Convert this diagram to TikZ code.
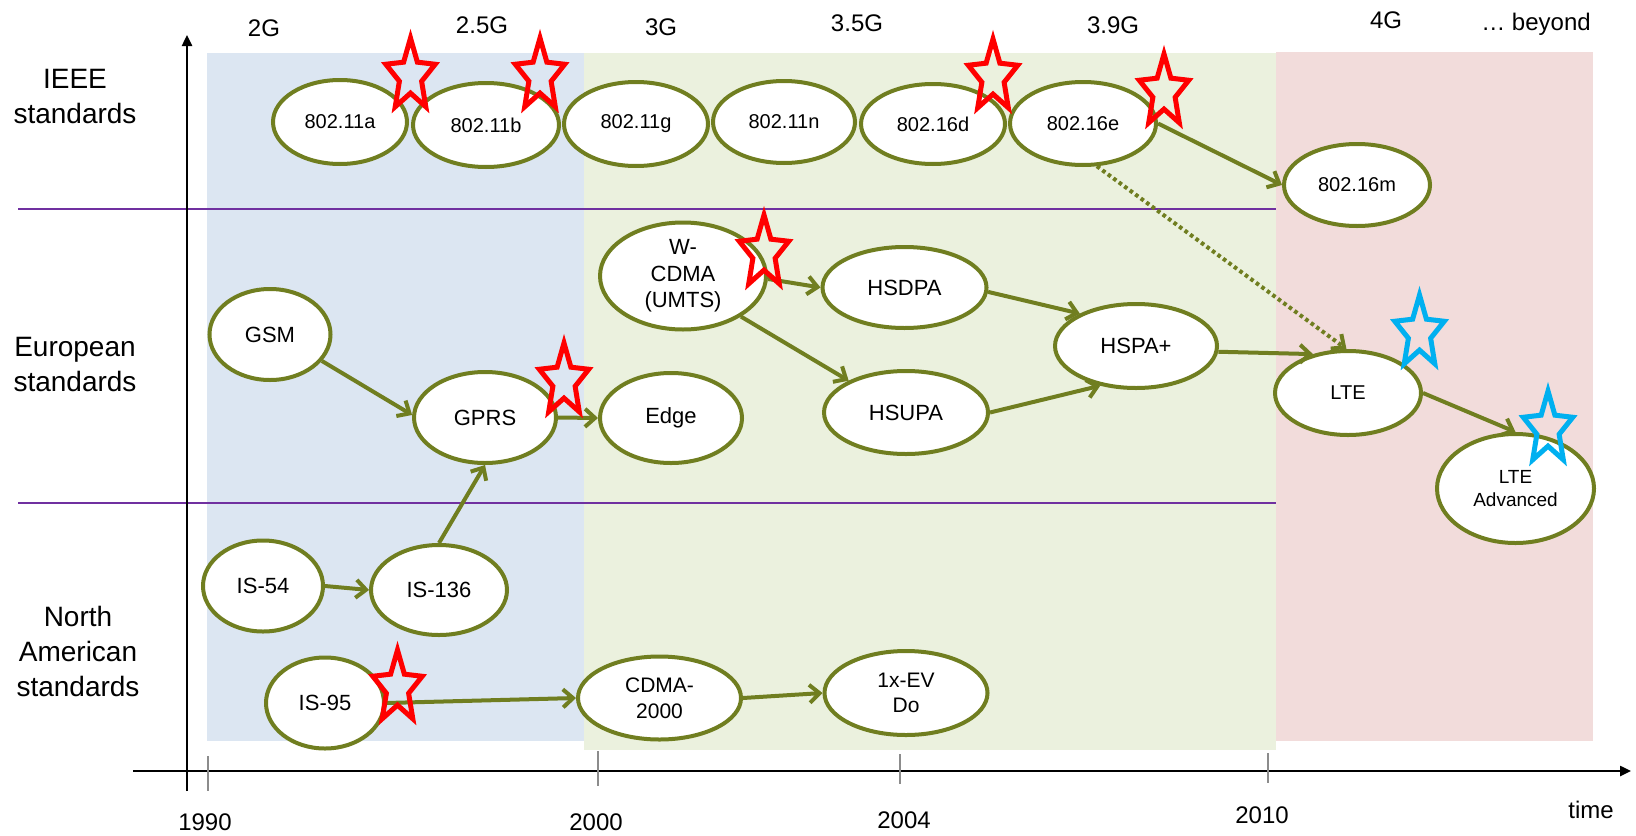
\documentclass[tikz,border=0pt]{standalone}
\usepackage{fontspec}
\setmainfont{Liberation Sans}
\usetikzlibrary{shapes.geometric,arrows.meta}

\definecolor{olivegreen}{RGB}{112,126,32}
\definecolor{bandblue}{RGB}{220,230,242}
\definecolor{bandgreen}{RGB}{235,241,222}
\definecolor{bandpink}{RGB}{242,220,219}
\definecolor{rowline}{RGB}{112,48,160}
\definecolor{starred}{RGB}{255,0,0}
\definecolor{starblue}{RGB}{0,176,240}
\definecolor{tickgray}{RGB}{140,140,140}

\tikzset{
  std/.style={ellipse, draw=olivegreen, line width=2pt, fill=white, inner sep=0pt,
    align=center, font=\fontsize{11}{13.3}\selectfont},
  smalltext/.style={font=\fontsize{10}{11.7}\selectfont},
  link/.style={draw=olivegreen, line width=2pt, -{Straight Barb[length=5pt,width=9pt]}},
  maybelink/.style={draw=olivegreen, line width=2pt, dash pattern=on 1.8pt off 1.6pt,
    -{Straight Barb[length=5pt,width=9pt]}},
  axisline/.style={draw=black, line width=1.2pt, -{Triangle[length=5.5pt,width=5pt]}},
  tickmark/.style={draw=tickgray, line width=0.6pt},
  rowsep/.style={draw=rowline, line width=0.9pt},
  gen/.style={inner sep=0pt, anchor=base, font=\fontsize{12}{14}\selectfont},
  rowlabel/.style={inner sep=0pt, align=center, font=\fontsize{14}{17.5}\selectfont},
  starmark/.pic={
    \draw[pic actions, line width=2.5pt, line join=miter, x=13pt, y=19pt]
      (90:1) -- (126:0.45) -- (162:1) -- (198:0.45) -- (234:1) -- (270:0.45)
      -- (306:1) -- (342:0.45) -- (18:1) -- (54:0.45) -- cycle;
  }
}

\begin{document}
\begin{tikzpicture}[x=0.5pt,y=-0.5pt]
\useasboundingbox (0,0) rectangle (1636,835);

% generation bands
\fill[bandblue]  (207,53) rectangle (584,741);
\fill[bandgreen] (584,53) rectangle (1276,750);
\fill[bandpink]  (1276,52) rectangle (1593,741);

% separators between the standards families
\coordinate (sepAl) at (18,209);  \coordinate (sepAr) at (1276,209);
\coordinate (sepBl) at (18,503);  \coordinate (sepBr) at (1276,503);
\draw[rowsep] (sepAl) -- (sepAr);
\draw[rowsep] (sepBl) -- (sepBr);

% axes
\coordinate (yaxbot) at (187,791);  \coordinate (yaxtop) at (187,35);
\coordinate (xaxleft) at (133,771); \coordinate (xaxright) at (1631,771);
\draw[axisline] (yaxbot) -- (yaxtop);
\draw[axisline] (xaxleft) -- (xaxright);

% year ticks
\coordinate (t90a) at (208,756);  \coordinate (t90b) at (208,791);
\coordinate (t00a) at (598,751);  \coordinate (t00b) at (598,786);
\coordinate (t04a) at (900,754);  \coordinate (t04b) at (900,784);
\coordinate (t10a) at (1268,753); \coordinate (t10b) at (1268,783);
\draw[tickmark] (t90a) -- (t90b);
\draw[tickmark] (t00a) -- (t00b);
\draw[tickmark] (t04a) -- (t04b);
\draw[tickmark] (t10a) -- (t10b);

\node[gen] (y1990) at (205,830) {1990};
\node[gen] (y2000) at (596,830) {2000};
\node[gen] (y2004) at (904,828) {2004};
\node[gen] (y2010) at (1262,823) {2010};
\node[gen] (ytime) at (1591,818) {time};

% generation labels
\node[gen] (g2)   at (264,36)  {2G};
\node[gen] (g25)  at (482,33)  {2.5G};
\node[gen] (g3)   at (661,35)  {3G};
\node[gen] (g35)  at (857,32)  {3.5G};
\node[gen] (g39)  at (1113,33) {3.9G};
\node[gen] (g4)   at (1386,28) {4G};
\node[gen] (gbey) at (1536,31) {… beyond};

% family labels
\node[rowlabel] (ieee) at (75,97)    {IEEE\\standards};
\node[rowlabel] (euro) at (75,364)   {European\\standards};
\node[rowlabel] (namr) at (78,651.5) {North\\American\\standards};

% IEEE standards
\node[std, smalltext, minimum width=67pt, minimum height=42pt] (n11a) at (340,122)  {802.11a};
\node[std, smalltext, minimum width=73pt, minimum height=42pt] (n11b) at (486,125)  {802.11b};
\node[std, smalltext, minimum width=72pt, minimum height=42pt] (n11g) at (636,124)  {802.11g};
\node[std, smalltext, minimum width=71pt, minimum height=41pt] (n11n) at (784,122)  {802.11n};
\node[std, smalltext, minimum width=72pt, minimum height=40pt] (n16d) at (933,124)  {802.16d};
\node[std, smalltext, minimum width=73pt, minimum height=41.5pt] (n16e) at (1083,123.5) {802.16e};
\node[std, smalltext, minimum width=73pt, minimum height=41pt] (n16m) at (1357,185) {802.16m};

% European standards
\node[std, minimum width=60.5pt, minimum height=45.5pt] (gsm)   at (270,334.5) {GSM};
\node[std, minimum width=71pt,   minimum height=45.5pt] (gprs)  at (485,417.5) {GPRS};
\node[std, minimum width=71pt,   minimum height=45pt]   (edge)  at (671,418)   {Edge};
\node[std, minimum width=83pt,   minimum height=53.5pt] (wcdma) at (683,276)   {W-\\CDMA\\(UMTS)};
\node[std, minimum width=82pt,   minimum height=40.5pt] (hsdpa) at (904.5,287.5) {HSDPA};
\node[std, minimum width=82pt,   minimum height=41.5pt] (hsupa) at (906,412.5) {HSUPA};
\node[std, minimum width=81pt,   minimum height=42pt]   (hspa)  at (1136,346)  {HSPA+};
\node[std, smalltext, minimum width=73pt, minimum height=42pt] (lte) at (1348,393) {LTE};
\node[std, font=\fontsize{9.5}{11.5}\selectfont, minimum width=78.5pt, minimum height=54.5pt] (ltea) at (1515.5,488.5) {LTE\\Advanced};

% North American standards
\node[std, minimum width=60pt,   minimum height=45.5pt] (is54)  at (263,586)  {IS-54};
\node[std, minimum width=68pt,   minimum height=45pt]   (is136) at (439,590)  {IS-136};
\node[std, minimum width=59pt,   minimum height=45.5pt] (is95)  at (325,703)  {IS-95};
\node[std, font=\fontsize{10.5}{13}\selectfont, minimum width=81.5pt, minimum height=41.5pt] (cdma) at (659.5,698) {CDMA-\\2000};
\node[std, font=\fontsize{10.5}{12.5}\selectfont, minimum width=81.5pt, minimum height=42pt] (evdo) at (906,693) {1x-EV\\Do};

% evolution paths
\draw[link] (gsm.-27)   -- (gprs.178);
\draw[link] (is136.north) -- (gprs.south);
\draw[link] (gprs.east) -- (edge.west);
\draw[link] (is54.east) -- (is136.west);
\draw[link] (is95.east) -- (cdma.west);
\draw[link] (cdma.east) -- (evdo.west);
\draw[link] (wcdma.-2)  -- (hsdpa.west);
\draw[link] (wcdma.-35) -- (hsupa.151);
\draw[link] (hsdpa.-3)  -- (hspa.150);
\draw[link] (hsupa.east) -- (hspa.228);
\draw[link] (hspa.-4)   -- (lte.132);
\draw[link] (lte.east)  -- (ltea.north);
\draw[link] (n16e.east) -- (n16m.west);
\draw[maybelink] (n16e.-72) -- (lte.92);

% markers
\pic[draw=starred]  at (410.5,76)  {starmark};
\pic[draw=starred]  at (540,76)    {starmark};
\pic[draw=starred]  at (993,77)    {starmark};
\pic[draw=starred]  at (1164,92)   {starmark};
\pic[draw=starred]  at (564,381)   {starmark};
\pic[draw=starred]  at (764,253)   {starmark};
\pic[draw=starred]  at (397.5,688) {starmark};
\pic[draw=starblue] at (1419.5,333) {starmark};
\pic[draw=starblue] at (1548,429)  {starmark};
\end{tikzpicture}
\end{document}
